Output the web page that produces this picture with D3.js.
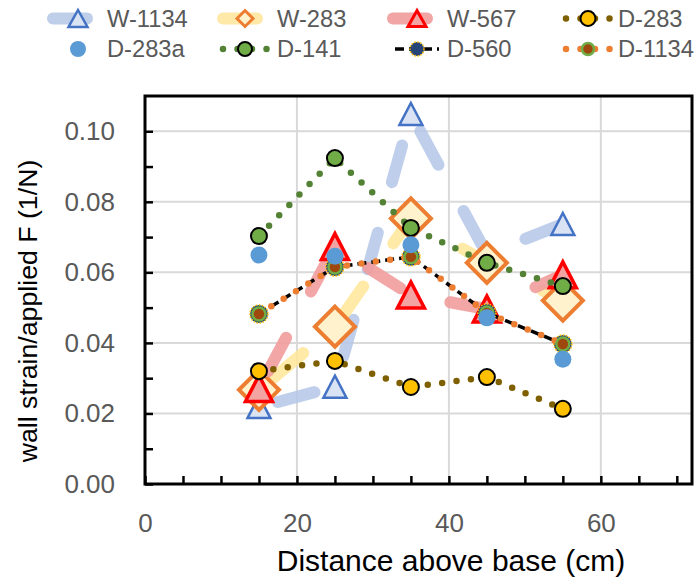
<!DOCTYPE html>
<html>
<head>
<meta charset="utf-8">
<script src="https://cdn.jsdelivr.net/npm/d3@7"></script>
<style>
    body { margin: 0; background: #fff; }
    svg { display: block; }
</style>
</head>
<body>
<script>
(function () {
    // distance above base (cm) for every series
    var distance = [15, 25, 35, 45, 55];

    // wall strain / applied F (1/N)
    var w1134 = [0.0218, 0.0276, 0.1049, 0.0652, 0.0737];
    var w283 = [0.0267, 0.0446, 0.0753, 0.0627, 0.0520];
    var w567 = [0.0271, 0.0673, 0.0536, 0.0496, 0.0593];
    var d283 = [0.0320, 0.0349, 0.0275, 0.0303, 0.0213];
    var d283a = [0.0649, 0.0646, 0.0678, 0.0471, 0.0354];
    var d141 = [0.0703, 0.0924, 0.0726, 0.0627, 0.0561];
    var d560 = [0.0482, 0.0615, 0.0644, 0.0485, 0.0397];
    var d1134 = [0.0482, 0.0615, 0.0644, 0.0485, 0.0397];

    var seriesNames = ["W-1134", "W-283", "W-567", "D-283", "D-283a", "D-141", "D-560", "D-1134"];
    var seriesValues = [w1134, w283, w567, d283, d283a, d141, d560, d1134];

    var xTicks = [0, 20, 40, 60];
    var yTicks = [0, 0.02, 0.04, 0.06, 0.08, 0.10];
    var xMinorTicks = [0, 5, 10, 15, 20, 25, 30, 35, 40, 45, 50, 55, 60, 65, 70];
    var yMinorTicks = [0, 0.01, 0.02, 0.03, 0.04, 0.05, 0.06, 0.07, 0.08, 0.09, 0.10];

    var xTitle = "Distance above base (cm)",
        yTitle = "wall strain/applied F (1/N)";

    // look of each series (line + marker), same order as seriesNames
    var styles = [
        { line: { color: "#B4C7E7", width: 12, dash: "38,52.5", offset: -19.5, cap: "round", opacity: 0.85 },
          marker: { shape: "triangle", w: 23, h: 22, fill: "#DAE3F3", stroke: "#4472C4", sw: 2.5 },
          legendMarker: { w: 19, h: 17 } },
        { line: { color: "#FFE699", width: 12, dash: "38,52.5", offset: -19.5, cap: "round", opacity: 0.85 },
          marker: { shape: "diamond", r: 20, fill: "#FFF2CC", stroke: "#ED7D31", sw: 4 },
          legendMarker: { r: 8, sw: 3 } },
        { line: { color: "#F19C9C", width: 12, dash: "38,52.5", offset: -19.5, cap: "round", opacity: 0.9 },
          marker: { shape: "triangle", w: 27, h: 26, fill: "#F4A3A3", stroke: "#FF0000", sw: 3.5 },
          legendMarker: { w: 18, h: 16, sw: 3 } },
        { line: { color: "#7F6000", width: 6.5, dash: "0,14.5", cap: "round" },
          marker: { shape: "circle", r: 8, fill: "#FFC000", stroke: "#000", sw: 2 },
          legendMarker: { r: 7.5 } },
        { line: null,
          marker: { shape: "circle", r: 8.5, fill: "#5B9BD5", stroke: "none", sw: 0 },
          legendMarker: { r: 8 } },
        { line: { color: "#548235", width: 6.5, dash: "0,14.5", cap: "round" },
          marker: { shape: "circle", r: 8, fill: "#70AD47", stroke: "#000", sw: 2 },
          legendMarker: { r: 7 } },
        { line: { color: "#000", width: 3.5, dash: "9,5", cap: "butt" },
          marker: { shape: "circle", r: 9, fill: "#264478", stroke: "#FFC000", sw: 1.5, dash: "1.5,1.5" },
          legendMarker: { r: 7 } },
        { line: { color: "#ED7D31", width: 6.5, dash: "0,14.5", cap: "round" },
          marker: { shape: "circle", r: 6.5, fill: "#9E480E", stroke: "#70AD47", sw: 2.5 },
          legendMarker: { r: 6 } }
    ];

    // D-283a markers end up on top of the others in the reference
    var drawOrder = [0, 1, 2, 3, 5, 6, 7, 4];

    var width = 699,
        height = 581,
        plotLeft = 145,
        plotRight = 692,
        plotTop = 96,
        plotBottom = 484;

    var fontFamily = "'Liberation Sans', Arial, sans-serif";

    var svg = d3.select("body")
        .append("svg")
        .attr("width", width)
        .attr("height", height);

    var x = d3.scaleLinear()
        .domain([0, 72])
        .range([plotLeft, plotRight]);

    var y = d3.scaleLinear()
        .domain([0, 0.11])
        .range([plotBottom, plotTop]);

    drawGrid();
    drawSeries();
    drawFrame();
    drawAxes();
    drawLegend();

    function drawGrid() {
        var grid = svg.append("g").attr("class", "grid");

        grid.selectAll(".vgrid")
            .data(xTicks.filter(function (d) { return d > 0; }))
            .enter()
            .append("line")
            .attr("x1", function (d) { return x(d); })
            .attr("x2", function (d) { return x(d); })
            .attr("y1", plotTop)
            .attr("y2", plotBottom)
            .style("stroke", "#D9D9D9")
            .style("stroke-width", 2);

        grid.selectAll(".hgrid")
            .data(yTicks.filter(function (d) { return d > 0; }))
            .enter()
            .append("line")
            .attr("x1", plotLeft)
            .attr("x2", plotRight)
            .attr("y1", function (d) { return y(d); })
            .attr("y2", function (d) { return y(d); })
            .style("stroke", "#D9D9D9")
            .style("stroke-width", 2);
    }

    function markerPath(m) {
        if (m.shape === "triangle") {
            return "M0," + (-m.h / 2) + "L" + (m.w / 2) + "," + (m.h / 2) +
                   "L" + (-m.w / 2) + "," + (m.h / 2) + "Z";
        }
        if (m.shape === "diamond") {
            return "M0," + (-m.r) + "L" + m.r + ",0L0," + m.r + "L" + (-m.r) + ",0Z";
        }
        return null;
    }

    function appendMarker(g, m, cx, cy) {
        var el;
        if (m.shape === "circle") {
            el = g.append("circle")
                .attr("cx", cx)
                .attr("cy", cy)
                .attr("r", m.r);
        } else {
            el = g.append("path")
                .attr("d", markerPath(m))
                .attr("transform", "translate(" + cx + "," + cy + ")");
        }
        el.style("fill", m.fill)
            .style("stroke", m.stroke)
            .style("stroke-width", m.sw)
            .style("stroke-linejoin", "miter");
        if (m.dash) el.style("stroke-dasharray", m.dash);
        return el;
    }

    function drawSeries() {
        var line = d3.line()
            .x(function (d) { return x(d[0]); })
            .y(function (d) { return y(d[1]); });

        drawOrder.forEach(function (i) {
            var st = styles[i];
            var pts = distance.map(function (d, k) { return [d, seriesValues[i][k]]; });
            var g = svg.append("g").attr("class", "series s" + i);

            if (st.line) {
                g.append("path")
                    .attr("d", line(pts))
                    .style("fill", "none")
                    .style("stroke", st.line.color)
                    .style("stroke-width", st.line.width)
                    .style("stroke-dasharray", st.line.dash)
                    .style("stroke-dashoffset", st.line.offset || 0)
                    .style("stroke-linecap", st.line.cap)
                    .style("stroke-linejoin", "round")
                    .style("opacity", st.line.opacity || 1);
            }

            pts.forEach(function (p) {
                appendMarker(g, st.marker, x(p[0]), y(p[1]));
            });
        });
    }

    function drawFrame() {
        svg.append("rect")
            .attr("x", plotLeft)
            .attr("y", plotTop)
            .attr("width", plotRight - plotLeft)
            .attr("height", plotBottom - plotTop)
            .style("fill", "none")
            .style("stroke", "#000")
            .style("stroke-width", 3);
    }

    function drawAxes() {
        // inside tick marks
        var xTickAxis = d3.axisBottom(x)
            .tickValues(xMinorTicks)
            .tickSize(-8)
            .tickFormat("");
        var gx = svg.append("g")
            .attr("transform", "translate(0," + plotBottom + ")")
            .call(xTickAxis);
        gx.select(".domain").remove();
        gx.selectAll("line").style("stroke", "#000").style("stroke-width", 2.5);

        var yTickAxis = d3.axisLeft(y)
            .tickValues(yMinorTicks)
            .tickSize(-8)
            .tickFormat("");
        var gy = svg.append("g")
            .attr("transform", "translate(" + plotLeft + ",0)")
            .call(yTickAxis);
        gy.select(".domain").remove();
        gy.selectAll("line").style("stroke", "#000").style("stroke-width", 2.5);

        // tick labels
        var xLabelAxis = d3.axisBottom(x)
            .tickValues(xTicks)
            .tickSize(0)
            .tickPadding(30)
            .tickFormat(d3.format("d"));
        var gxl = svg.append("g")
            .attr("transform", "translate(0," + plotBottom + ")")
            .call(xLabelAxis);
        gxl.select(".domain").remove();
        gxl.selectAll("text")
            .style("font-family", fontFamily)
            .style("font-size", "26px")
            .style("fill", "#595959");

        var yLabelAxis = d3.axisLeft(y)
            .tickValues(yTicks)
            .tickSize(0)
            .tickPadding(30)
            .tickFormat(d3.format(".2f"));
        var gyl = svg.append("g")
            .attr("transform", "translate(" + plotLeft + ",0)")
            .call(yLabelAxis);
        gyl.select(".domain").remove();
        gyl.selectAll("text")
            .style("font-family", fontFamily)
            .style("font-size", "26px")
            .style("fill", "#595959");

        // axis titles
        svg.append("text")
            .attr("x", 451)
            .attr("y", 571)
            .attr("text-anchor", "middle")
            .style("font-family", fontFamily)
            .style("font-size", "30px")
            .style("fill", "#000")
            .text(xTitle);

        svg.append("text")
            .attr("transform", "translate(37,311) rotate(-90)")
            .attr("text-anchor", "middle")
            .style("font-family", fontFamily)
            .style("font-size", "26.7px")
            .style("fill", "#000")
            .text(yTitle);
    }

    function drawLegend() {
        var colText = [107, 277, 447, 618],
            colSymbol = [78, 245, 417, 588],
            colLine = [70, 240, 410, 585],
            rowBase = [27, 57],
            rowMid = [18.5, 49];

        var legend = svg.append("g").attr("class", "legend");

        seriesNames.forEach(function (name, i) {
            var col = i % 4,
                row = Math.floor(i / 4),
                st = styles[i],
                cx = colSymbol[col],
                cy = rowMid[row];
            var item = legend.append("g");

            if (st.line) {
                var thick = st.line.width > 8;
                var lc = thick ? colLine[col] : cx;
                var half = thick ? 17 : 22;
                item.append("line")
                    .attr("x1", lc - half)
                    .attr("x2", lc + half)
                    .attr("y1", cy)
                    .attr("y2", cy)
                    .style("stroke", st.line.color)
                    .style("stroke-width", st.line.width)
                    .style("stroke-dasharray", thick ? null : st.line.dash)
                    .style("stroke-linecap", st.line.cap)
                    .style("opacity", st.line.opacity || 1);
            }

            var m = Object.assign({}, st.marker, st.legendMarker);
            appendMarker(item, m, cx, cy);

            item.append("text")
                .attr("x", colText[col])
                .attr("y", rowBase[row])
                .style("font-family", fontFamily)
                .style("font-size", "23.7px")
                .style("fill", "#595959")
                .text(name);
        });
    }
})();
</script>
</body>
</html>
